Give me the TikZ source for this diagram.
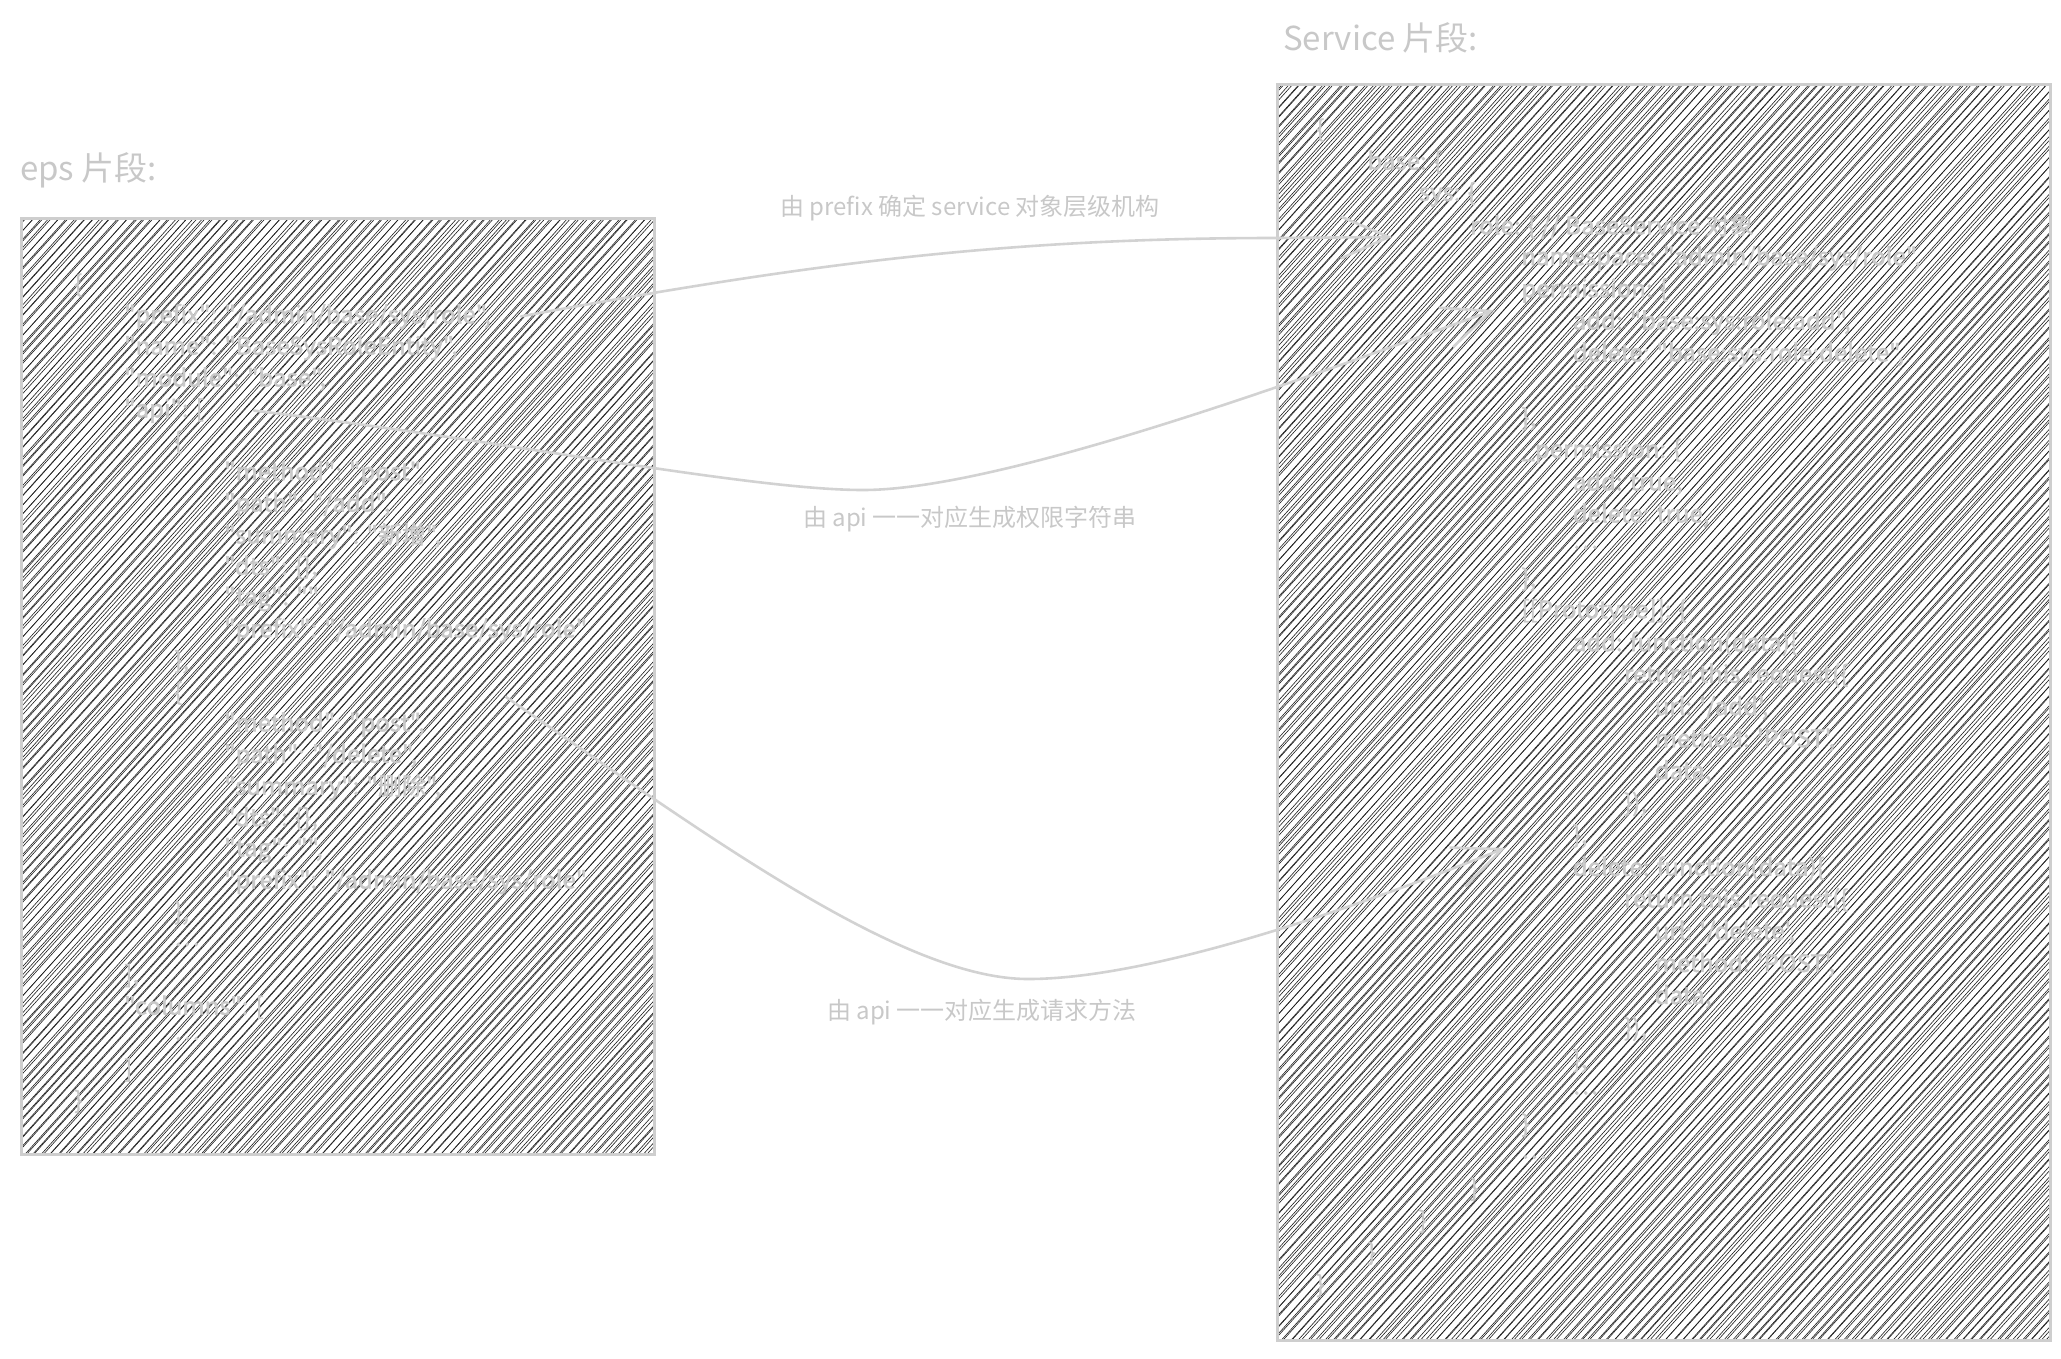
\documentclass[tikz,border=0pt]{standalone}
\usepackage{fontspec}
\setmainfont{Noto Sans CJK SC}
\newfontfamily\codefont{Noto Sans CJK SC}[FakeBold=1.6]
\usetikzlibrary{arrows.meta, positioning}
\definecolor{cFrame}{RGB}{206,206,206}
\definecolor{cText}{RGB}{200,200,200}
\definecolor{cHatch}{RGB}{30,30,30}
\definecolor{cLink}{RGB}{210,210,210}
\tikzset{
	segtitle/.style={anchor=west, inner sep=0pt, text=cText, font=\fontsize{33}{38}\selectfont},
	codeline/.style={anchor=west, inner sep=0pt, text=cText, font=\codefont\fontsize{24}{28}\selectfont},
	linklabel/.style={inner sep=0pt, text=cText, font=\fontsize{24}{28}\selectfont},
	boxframe/.style={draw=cFrame, line width=3pt, anchor=north west, inner sep=0pt},
	hatchline/.style={draw=cHatch, line width=0.6pt},
	linkarrow/.style={draw=cLink, line width=2.6pt, line cap=round, -{Straight Barb[length=48pt,width=42pt]}},
}
\begin{document}
\begin{tikzpicture}[x=1pt, y=-1pt]
	\useasboundingbox (0,0) rectangle (2061,1358);
	\pgfmathsetseed{3}
	% hachure of the two boxes
	\begin{scope}
		\clip (20,217) rectangle (653,1153);
		\foreach \c in {-840,-831.5,...,660} {
			\pgfmathsetmacro\da{\c+rand*1.3}
			\pgfmathsetmacro\db{\c+1.8+rand*1.3}
			\draw[hatchline] (\da,1160) -- ++(855,-950);
			\draw[hatchline] (\db,1160) -- ++(855,-950);
		}
	\end{scope}
	\begin{scope}
		\clip (1276,83) rectangle (2049,1339);
		\foreach \c in {130,138.5,...,2055} {
			\pgfmathsetmacro\da{\c+rand*1.3}
			\pgfmathsetmacro\db{\c+1.8+rand*1.3}
			\draw[hatchline] (\da,1345) -- ++(1176,-1307);
			\draw[hatchline] (\db,1345) -- ++(1176,-1307);
		}
	\end{scope}
	\node[boxframe, minimum width=633pt, minimum height=936pt] (epsbox) at (20,217) {};
	\node[boxframe, minimum width=773pt, minimum height=1256pt] (svcbox) at (1276,83) {};
	\node[segtitle] (epstitle) at (20,170) {eps 片段:};
	\node[segtitle] (svctitle) at (1283,38) {Service 片段:};
	% eps snippet
	\foreach \i/\lvl/\txt in {0/0/\{, 1/1/{"prefix": "/admin/base/sys/role",}, 2/1/{"name": "BaseSysRoleEntity",},
		3/1/{"module": "base",}, 4/1/{"api": [}, 5/2/\{, 6/3/{"method": "post",}, 7/3/{"path": "/add",},
		8/3/{"summary": "新增",}, 9/3/{"dts": \{\},}, 10/3/{"tag": "",}, 11/3/{"prefix": "/admin/base/sys/role"},
		12/2/{\},}, 13/2/\{, 14/3/{"method": "post",}, 15/3/{"path": "/delete",}, 16/3/{"summary": "删除",},
		17/3/{"dts": \{\},}, 18/3/{"tag": "",}, 19/3/{"prefix": "/admin/base/sys/role"}, 20/2/{\},},
		21/2/\ldots, 22/1/{],}, 23/1/{"columns": [}, 24/2/\ldots, 25/1/], 26/0/\}} {
		\node[codeline] (eps\i) at (74+\lvl*50, 285+\i*31.4) {\txt};
	}
	% service snippet
	\foreach \i/\lvl/\txt in {0/0/\{, 1/1/{base: \{}, 2/2/{sys: \{}, 3/3/{role: \{ // BaseService 对象},
		4/4/{namespace: "admin/base/sys/role",}, 5/4/{permission: \{}, 6/5/{add: "base:sys:role:add",},
		7/5/{delete: "base:sys:role:delete",}, 8/5/\ldots, 9/4/{\},}, 10/4/{\_permission: \{},
		11/5/{add: true,}, 12/5/{delete: true,}, 13/5/\ldots, 14/4/{\},}, 15/4/{[[Prototype]]: \{},
		16/5/{add: function(data)\{}, 17/6/{return this.request(\{}, 18/6.6/{url: '/add',},
		19/6.6/{method: 'POST',}, 20/6.6/{data,}, 21/6/{\}),}, 22/5/{\},},
		23/5/{delete: function(data)\{}, 24/6/{return this.request(\{}, 25/6.6/{url: '/delete',},
		26/6.6/{method: 'POST',}, 27/6.6/{data,}, 28/6/{\}),}, 29/5/{\},}, 30/5/\ldots,
		31/4/\}, 32/4/\ldots, 33/3/\}, 34/2/\}, 35/1/\}, 36/0/\}} {
		\node[codeline] (svc\i) at (1316+\lvl*51.3, 130+\i*32.1) {\txt};
	}
	% connectors
	\coordinate (tipA) at (1392,237);
	\coordinate (tipB) at (1494,310);
	\coordinate (srcC) at (506,697);
	\coordinate (tipC) at (1505,848);
	\draw[linkarrow] ([xshift=30pt]eps1.east) .. controls (800,265) and (1000,238) .. (1276,238) -- (tipA);
	\draw[linkarrow] ([xshift=50pt]eps4.east) .. controls (500,440) and (750,490) .. (863,490)
		.. controls (1000,490) and (1300,380) .. (tipB);
	\draw[linkarrow] (srcC) .. controls (700,830) and (900,979) .. (1028,979)
		.. controls (1150,979) and (1350,910) .. (tipC);
	\node[linklabel] (lblprefix) at (970,208) {由 prefix 确定 service 对象层级机构};
	\node[linklabel] (lblperm) at (970,519) {由 api 一一对应生成权限字符串};
	\node[linklabel] (lblreq) at (982,1012) {由 api 一一对应生成请求方法};
\end{tikzpicture}
\end{document}
